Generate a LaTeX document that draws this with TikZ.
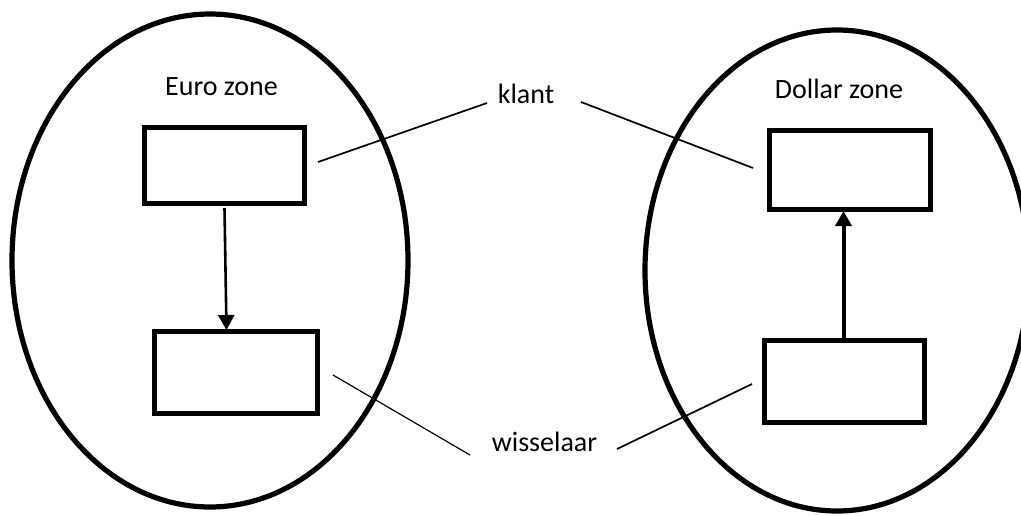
\documentclass[tikz,border=0pt]{standalone}
\usepackage{fontspec}
\setmainfont{Carlito}
\usetikzlibrary{arrows.meta}
\begin{document}
\begin{tikzpicture}[x=1pt,y=-1pt,
  zone/.style={line width=5.2pt},
  box/.style={draw,line width=5.2pt,rectangle,inner sep=0pt},
  lbl/.style={font=\fontsize{28}{32}\selectfont,inner sep=0pt,anchor=base},
  flow/.style={-{Triangle[width=16pt,length=15pt]}},
  link/.style={line width=1.7pt}]
\useasboundingbox (0,0) rectangle (1021,515);
\clip (0,0) rectangle (1021,515);
\fill[white] (0,0) rectangle (1021,515);
% zones
\draw[zone] (210,260.5) ellipse [x radius=198pt, y radius=246.5pt];
\draw[zone] (837,270.5) ellipse [x radius=192pt, y radius=240.5pt];
% labels
\node[lbl] (euro) at (221.5,95) {Euro zone};
\node[lbl] (dollar) at (839,98) {Dollar zone};
\node[lbl] (klant) at (526,103) {klant};
\node[lbl] (wissel) at (544.5,451) {wisselaar};
% boxes
\node[box,minimum width=159.8pt,minimum height=75.8pt] (tl) at (224.5,165.5) {};
\node[box,minimum width=162.8pt,minimum height=81.8pt] (bl) at (236,372.5) {};
\node[box,minimum width=160.8pt,minimum height=78.8pt] (tr) at (850,170) {};
\node[box,minimum width=159.8pt,minimum height=81.8pt] (br) at (844.5,381.5) {};
% arrows
\draw[flow,line width=2.6pt] ([yshift=-2pt]tl.south) -- ([xshift=2pt,yshift=-1pt]tl.south |- bl.north);
\draw[flow,line width=4pt] ([xshift=-1pt]br.north) -- ([xshift=-1pt,yshift=1pt]br.north |- tr.south);
% link lines
\coordinate (k1) at (318,162);
\coordinate (k2) at (487,103);
\coordinate (k3) at (581,102);
\coordinate (k4) at (753,168);
\coordinate (w1) at (333,375);
\coordinate (w2) at (470,455);
\coordinate (w3) at (617,449);
\coordinate (w4) at (752,384);
\draw[link] (k1) -- (k2);
\draw[link] (k3) -- (k4);
\draw[line width=1.2pt] (w1) -- (w2);
\draw[link] (w3) -- (w4);
\end{tikzpicture}
\end{document}
